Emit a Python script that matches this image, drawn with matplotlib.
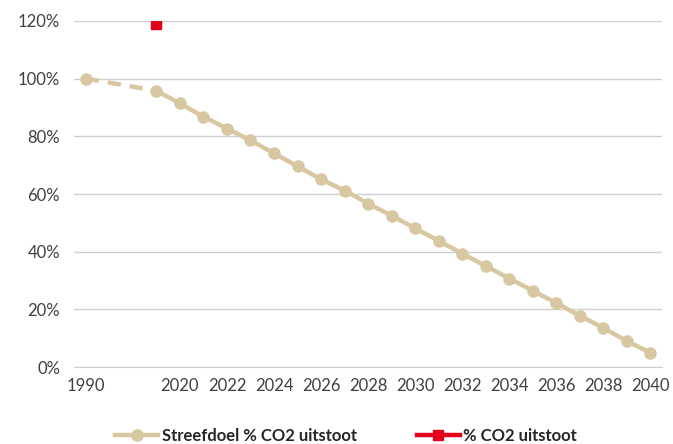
import matplotlib.pyplot as plt
from matplotlib.ticker import PercentFormatter

plt.rcParams['font.family'] = ['Lato', 'DejaVu Sans']

# categorie-as: 1990, twee lege plekken, daarna 2019 t/m 2040
jaren = ['1990', '', '', '2019'] + [str(j) for j in range(2020, 2041)]

# streefdoel (fractie van 1990)
streef_jaren_idx = [0, 3] + list(range(4, 25))
streefdoel = [1.00, 0.958, 0.914, 0.868, 0.827, 0.786, 0.741, 0.696, 0.651, 0.612,
              0.567, 0.525, 0.481, 0.438, 0.393, 0.351, 0.307, 0.265, 0.222, 0.178,
              0.136, 0.090, 0.050]

# gemeten uitstoot
uitstoot_idx = [3]
uitstoot = [1.19]

tan = '#D8C8A2'
rood = '#E3001B'

fig, ax = plt.subplots(figsize=(6.73, 4.44), dpi=100)
fig.subplots_adjust(left=0.11, right=0.984, top=0.953, bottom=0.173)

# stippellijn over de lege jaren
ax.plot(streef_jaren_idx[:2], streefdoel[:2], color=tan, lw=3.2, ls=(0, (3, 2)), zorder=2)
ax.plot(streef_jaren_idx[1:], streefdoel[1:], color=tan, lw=3.2, zorder=2)
ax.plot(streef_jaren_idx, streefdoel, ls='none', marker='o', ms=8, color=tan, zorder=3)
ax.plot(uitstoot_idx, uitstoot, ls='none', marker='s', ms=7.5, color=rood, zorder=4)

# legenda-items
ax.plot([], [], color=tan, lw=3.2, marker='o', ms=8, label='Streefdoel % CO2 uitstoot')
ax.plot([], [], color=rood, lw=3.2, marker='s', ms=7.5, label='% CO2 uitstoot')

ax.set_xlim(-0.5, len(jaren) - 0.5)
ax.set_ylim(0, 1.2)
ax.set_yticks([0, 0.2, 0.4, 0.6, 0.8, 1.0, 1.2])
ax.yaxis.set_major_formatter(PercentFormatter(1.0, decimals=0))
ax.set_xticks(range(0, len(jaren), 2))
ax.set_xticklabels(jaren[::2])
ax.tick_params(length=0, labelsize=12, colors='#404040', pad=8)
ax.tick_params(axis='y', pad=10)

ax.grid(axis='y', color='#D0D0D0', lw=1)
ax.set_axisbelow(True)
for s in ['top', 'right', 'left']:
    ax.spines[s].set_visible(False)
ax.spines['bottom'].set_color('#D0D0D0')

handles, labels = ax.get_legend_handles_labels()
leg = fig.legend(handles, labels, loc='center', bbox_to_anchor=(0.514, 0.018), ncol=2,
                 frameon=False, prop={'weight': 'bold', 'size': 12}, handlelength=2.6,
                 handletextpad=0.2, columnspacing=3.6)
for t in leg.get_texts():
    t.set_color('#262626')

plt.savefig('out.png')
